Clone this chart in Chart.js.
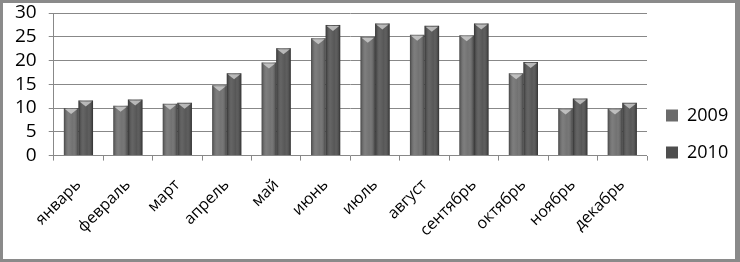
<!DOCTYPE html>
<html lang="ru">
  <head>
    <meta charset="UTF-8" />
    <title>2009 / 2010</title>
    <script src="https://cdn.jsdelivr.net/npm/chart.js@4.4.0/dist/chart.umd.min.js"></script>
    <style>
      html, body { margin: 0; padding: 0; background: #fff; }
      #wrap {
        width: 732px; height: 256px;
        border-left: 3px solid #8a8a8a; border-top: 3px solid #8a8a8a;
        border-right: 5px solid #8a8a8a; border-bottom: 3px solid #8a8a8a;
        background: #fff;
      }
    </style>
  </head>
  <body>
    <div id="wrap"><canvas id="myChart"></canvas></div>

    <script>
      const months = ['январь', 'февраль', 'март', 'апрель', 'май', 'июнь',
                      'июль', 'август', 'сентябрь', 'октябрь', 'ноябрь', 'декабрь'];
      const v2009 = [10.0, 10.5, 10.9, 14.8, 19.6, 24.7, 25.0, 25.4, 25.3, 17.3, 9.9, 9.9];
      const v2010 = [11.6, 11.8, 11.1, 17.3, 22.6, 27.5, 27.8, 27.3, 27.8, 19.7, 12.0, 11.1];
      const yTicks = [0, 5, 10, 15, 20, 25, 30];

      const FONT = '"Open Sans", "Noto Sans", sans-serif';

      // gives the flat bars a rounded, lit look like the office chart
      const bevel = {
        id: 'bevel',
        afterDatasetsDraw(chart) {
          const ctx = chart.ctx;
          chart.data.datasets.forEach((ds, i) => {
            const meta = chart.getDatasetMeta(i);
            meta.data.forEach(bar => {
              const left = bar.x - bar.width / 2;
              const right = bar.x + bar.width / 2;
              const g = ctx.createLinearGradient(left, 0, right, 0);
              g.addColorStop(0, 'rgba(0,0,0,0.35)');
              g.addColorStop(0.35, 'rgba(255,255,255,0.12)');
              g.addColorStop(0.6, 'rgba(255,255,255,0.05)');
              g.addColorStop(1, 'rgba(0,0,0,0.4)');
              ctx.save();
              ctx.fillStyle = g;
              ctx.fillRect(left, bar.y, bar.width, bar.base - bar.y);
              ctx.beginPath();
              ctx.moveTo(left + 1, bar.y + 1);
              ctx.lineTo(right - 1, bar.y + 1);
              ctx.lineTo(bar.x, bar.y + 6);
              ctx.closePath();
              ctx.fillStyle = 'rgba(215,215,215,0.75)';
              ctx.fill();
              ctx.restore();
            });
          });
        }
      };

      const ctx = document.getElementById('myChart').getContext('2d');
      const myChart = new Chart(ctx, {
        type: 'bar',
        data: {
          labels: months,
          datasets: [
            {
              label: '2009',
              data: v2009,
              backgroundColor: '#6b6b6b',
              borderWidth: 0,
              categoryPercentage: 0.59,
              barPercentage: 1.0
            },
            {
              label: '2010',
              data: v2010,
              backgroundColor: '#4e4e4e',
              borderWidth: 0,
              categoryPercentage: 0.59,
              barPercentage: 1.0
            }
          ]
        },
        options: {
          responsive: true,
          maintainAspectRatio: false,
          animation: false,
          layout: { padding: { left: 0, top: 10, right: 0, bottom: 4 } },
          plugins: {
            tooltip: { enabled: false },
            legend: {
              position: 'right',
              align: 'center',
              maxWidth: 88,
              labels: {
                color: '#000',
                font: { family: FONT, size: 18 },
                boxWidth: 12,
                boxHeight: 12,
                padding: 19
              }
            }
          },
          scales: {
            x: {
              grid: {
                offset: true,
                drawOnChartArea: false,
                drawTicks: true,
                tickLength: 5,
                color: '#888'
              },
              border: { display: false },
              ticks: {
                color: '#000',
                font: { family: FONT, size: 16 },
                maxRotation: 45,
                minRotation: 45,
                autoSkip: false,
                padding: 15
              }
            },
            y: {
              min: 0,
              max: 30,
              afterBuildTicks(axis) { axis.ticks = yTicks.map(v => ({ value: v })); },
              afterFit(axis) { axis.paddingTop = 0; },
              grid: { color: '#888', tickLength: 5 },
              border: { display: true, color: '#888' },
              ticks: {
                color: '#000',
                font: { family: FONT, size: 19 },
                autoSkip: false,
                padding: 12
              }
            }
          }
        },
        plugins: [bevel]
      });
    </script>
  </body>
</html>
